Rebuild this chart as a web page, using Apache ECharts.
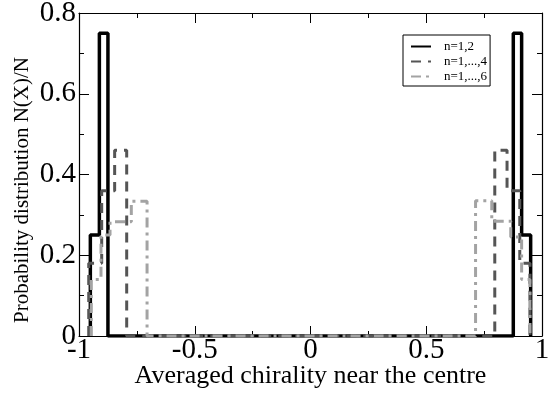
<!DOCTYPE html>
<html>
<head>
<meta charset="utf-8">
<script src="https://cdn.jsdelivr.net/npm/echarts@6/dist/echarts.min.js"></script>
<style>html,body{margin:0;padding:0;background:#fff}#c{width:558px;height:394px}</style>
</head>
<body>
<div id="c"></div>
<script>
// Histogram bin edges and heights (left peak and right peak) for each series
var seriesNames = ['n=1,2', 'n=1,...,4', 'n=1,...,6'];
var edges12L = [-0.951, -0.912, -0.875];
var heights12L = [0.25, 0.75];
var edges12R = [0.876, 0.912, 0.951];
var heights12R = [0.75, 0.25];

var edges14L = [-0.958, -0.902, -0.846, -0.794];
var heights14L = [0.18, 0.36, 0.46];
var edges14R = [0.796, 0.849, 0.904, 0.948];
var heights14R = [0.46, 0.36, 0.18];

var edges16L = [-0.947, -0.905, -0.866, -0.774, -0.706];
var heights16L = [0.14, 0.25, 0.283, 0.334];
var edges16R = [0.713, 0.783, 0.865, 0.912, 0.948];
var heights16R = [0.335, 0.284, 0.245, 0.14];

var xTicks = [-1, -0.5, 0, 0.5, 1];
var yTicks = [0, 0.2, 0.4, 0.6, 0.8];

function stepOutline(parts) {
  var pts = [];
  parts.forEach(function (p) {
    var e = p[0], h = p[1];
    pts.push([e[0], 0]);
    for (var i = 0; i < h.length; i++) {
      pts.push([e[i], h[i]]);
      pts.push([e[i + 1], h[i]]);
    }
    pts.push([e[e.length - 1], 0]);
  });
  return pts;
}

var FONT = "'Liberation Serif','Times New Roman',serif";
var chart = echarts.init(document.getElementById('c'), null, {renderer: 'canvas'});

function axisBase(show, margin) {
  return {
    axisLine: {show: true, onZero: false, lineStyle: {color: '#000', width: 1.2}},
    axisTick: {show: true, inside: true, length: 10, lineStyle: {color: '#000', width: 1}},
    minorTick: {show: true, splitNumber: 2, length: 5, lineStyle: {color: '#000', width: 1}},
    splitLine: {show: false},
    axisLabel: {show: show, margin: margin, color: '#000', fontFamily: FONT, fontSize: 29}
  };
}

var option = {
  backgroundColor: '#fff',
  animation: false,
  grid: {left: 79, right: 16, top: 13, bottom: 58, containLabel: false, outerBoundsMode: 'none'},
  xAxis: [
    Object.assign(axisBase(true, 0), {
      type: 'value', min: xTicks[0], max: xTicks[xTicks.length - 1], interval: 0.5,
      position: 'bottom',
      name: 'Averaged chirality near the centre', nameLocation: 'middle', nameGap: 27,
      nameMoveOverlap: false,
      nameTextStyle: {color: '#000', fontFamily: FONT, fontSize: 26}
    }),
    Object.assign(axisBase(false, 8), {
      type: 'value', min: xTicks[0], max: xTicks[xTicks.length - 1], interval: 0.5,
      position: 'top'
    })
  ],
  yAxis: [
    Object.assign(axisBase(true, 3), {
      type: 'value', min: yTicks[0], max: yTicks[yTicks.length - 1], interval: 0.2,
      position: 'left'
    }),
    Object.assign(axisBase(false, 8), {
      type: 'value', min: yTicks[0], max: yTicks[yTicks.length - 1], interval: 0.2,
      position: 'right'
    })
  ],
  legend: {
    orient: 'vertical', left: 403, top: 35,
    backgroundColor: '#fff', borderColor: '#000', borderWidth: 1,
    padding: [5, 3, 3, 7], itemGap: 2, itemWidth: 20, itemHeight: 10,
    itemStyle: {opacity: 0},
    textStyle: {color: '#000', fontFamily: FONT, fontSize: 13, padding: [0, 0, 0, 8]},
    data: seriesNames
  },
  graphic: [{
    type: 'text', x: 22, y: 190,
    rotation: Math.PI / 2,
    style: {text: 'Probability distribution N(X)/N', fill: '#000', font: '21px ' + FONT,
            align: 'center', verticalAlign: 'middle'}
  }],
  series: [
    {
      name: seriesNames[0], type: 'line', symbol: 'none', z: 3,
      data: stepOutline([[edges12L, heights12L], [edges12R, heights12R]]),
      lineStyle: {color: '#000', width: 3.5}, itemStyle: {color: '#000'}
    },
    {
      name: seriesNames[1], type: 'line', symbol: 'none', z: 4,
      data: stepOutline([[edges14L, heights14L], [edges14R, heights14R]]),
      lineStyle: {color: '#555', width: 3, type: [10, 7]}, itemStyle: {color: '#555'}
    },
    {
      name: seriesNames[2], type: 'line', symbol: 'none', z: 5,
      data: stepOutline([[edges16L, heights16L], [edges16R, heights16R]]),
      lineStyle: {color: '#a3a3a3', width: 3, type: [10, 5, 3, 5]}, itemStyle: {color: '#a3a3a3'}
    }
  ]
};
chart.setOption(option);
</script>
</body>
</html>
